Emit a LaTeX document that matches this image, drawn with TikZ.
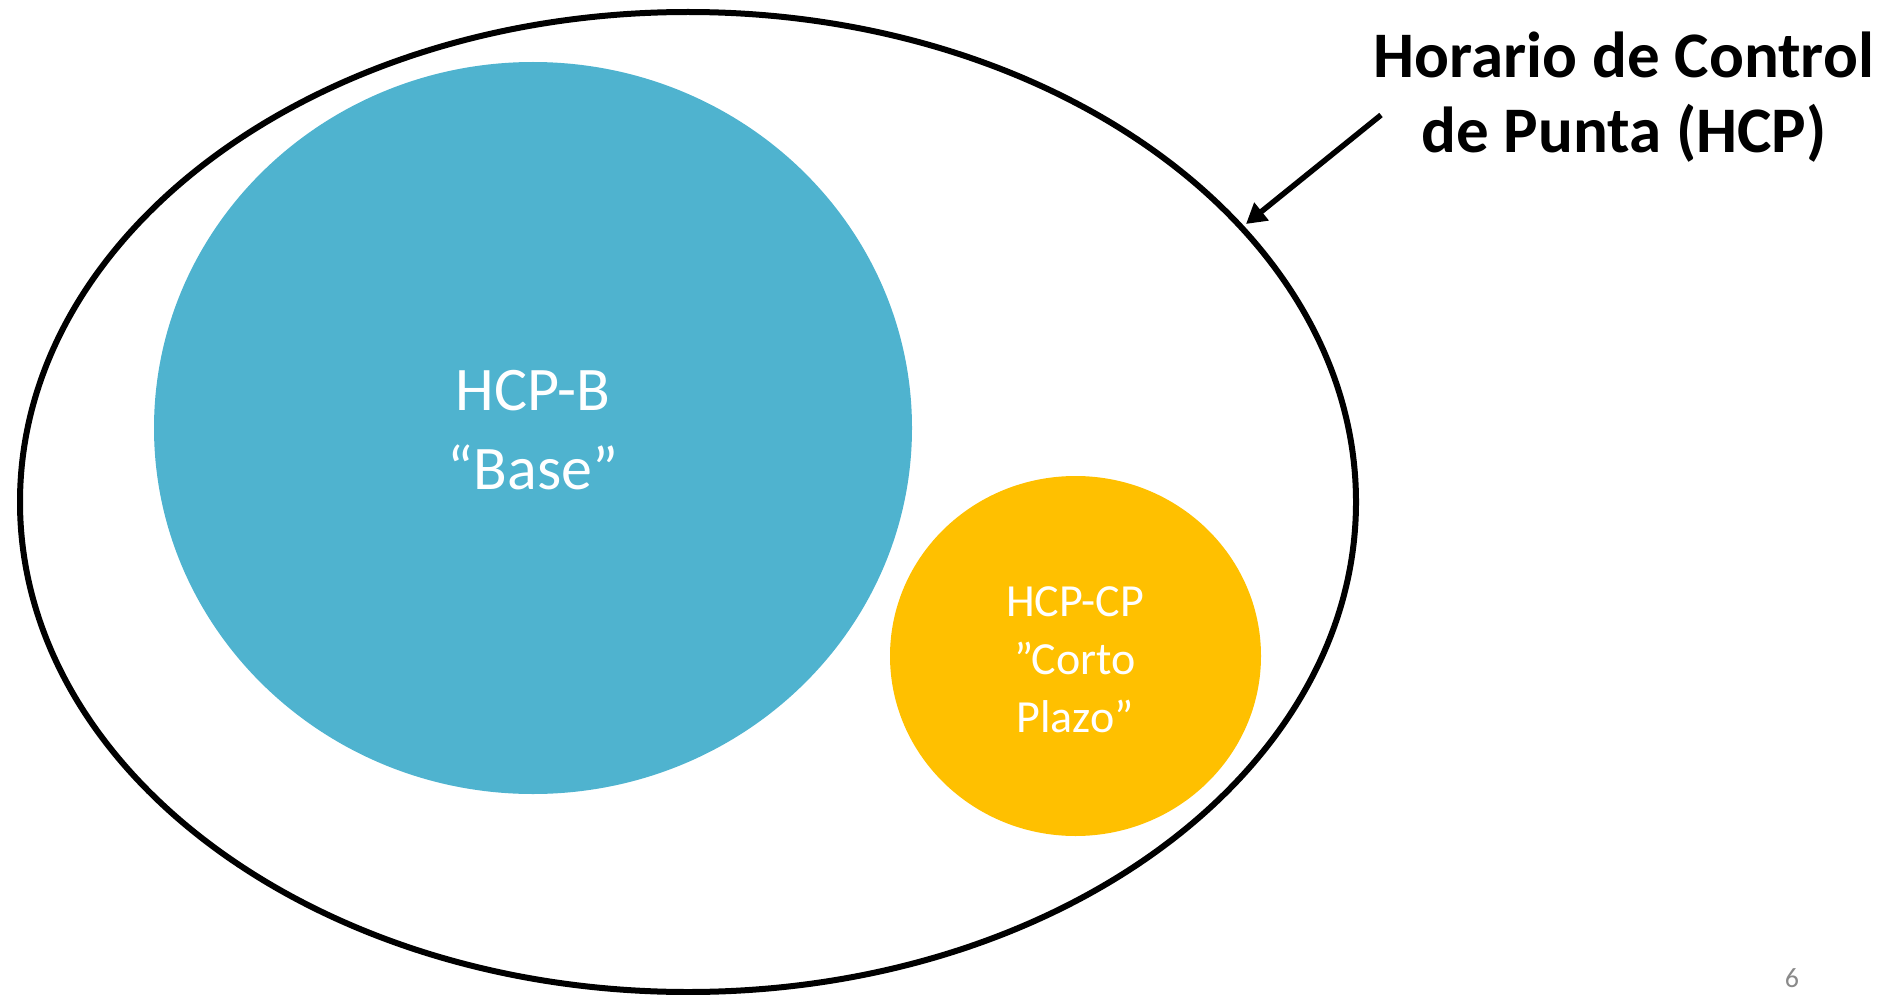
\documentclass[tikz,border=0pt]{standalone}
\usepackage{fontspec}
\setmainfont{Carlito}
\usetikzlibrary{shapes.geometric,arrows.meta}
\definecolor{hcpblue}{HTML}{4FB3CF}
\definecolor{hcpyellow}{HTML}{FFC000}
\definecolor{pagegray}{HTML}{8A8A8A}
\tikzset{
  blob/.style={ellipse, inner sep=0pt, draw=none, text=white, align=center},
  ring/.style={ellipse, inner sep=0pt, draw=black, line width=6pt},
  pointer/.style={draw=black, line width=5.5pt, -{Triangle[length=20pt,width=22pt]}},
}
\begin{document}
\begin{tikzpicture}[x=1pt,y=-1pt]
\useasboundingbox (0,0) rectangle (1900,995);
\node[ring, minimum width=1336pt, minimum height=980pt] (outer) at (688,502) {};
\node[blob, fill=hcpblue, minimum width=758pt, minimum height=732pt] (base) at (533,428) {};
\node[text=white, align=center, font=\fontsize{62pt}{79pt}\selectfont] (basetxt) at (533,430) {HCP-B\\“Base”};
\node[blob, fill=hcpyellow, minimum width=371pt, minimum height=360pt] (cp) at (1075.5,656) {};
\node[text=white, align=center, font=\fontsize{46pt}{58pt}\selectfont] (cptxt) at (1075,660) {HCP-CP\\”Corto\\Plazo”};
\node[align=center, font=\bfseries\fontsize{65pt}{75pt}\selectfont] (title) at (1624,97) {Horario de Control\\de Punta (HCP)};
\coordinate (tail) at (1381,115);
\coordinate (tip) at (1246,224);
\draw[pointer] (tail) -- (tip);
\node[text=pagegray, inner sep=0pt, font=\fontsize{28pt}{32pt}\selectfont, anchor=base] (pagenum) at (1792,987) {6};
\end{tikzpicture}
\end{document}
